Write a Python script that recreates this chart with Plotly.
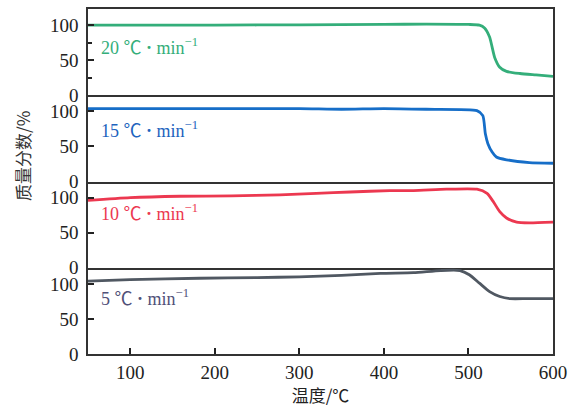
import plotly.graph_objects as go
from plotly.subplots import make_subplots

# Data
t20 = [50, 100, 200, 300, 400, 450, 500, 513, 519, 525, 531, 537, 545, 561, 580, 600]
w20 = [100, 100, 100, 100.5, 101, 101.5, 101, 100, 96, 83, 54, 40, 34, 31, 29, 27]

t15 = [50, 100, 200, 300, 350, 400, 450, 510, 517, 520, 523, 528, 533, 545, 572, 600]
w15 = [104, 104, 104, 104, 103, 104, 103, 101, 94, 68, 54, 42, 35, 31, 27, 26]

t10 = [50, 100, 159, 220, 277, 320, 360, 407, 435, 474, 510, 522, 529, 537, 545, 557, 572, 600]
w10 = [96, 100, 102, 102.5, 104, 106, 108, 110, 110, 112, 112, 106, 95, 80, 71, 65, 64, 65]

t5 = [50, 100, 182, 250, 300, 350, 396, 435, 467, 490, 501, 513, 525, 537, 549, 570, 600]
w5 = [104, 106, 108, 109, 110, 112, 115, 116, 119, 119, 113, 101, 89, 82, 79, 79, 79]

labels = ["20 ℃ <b>·</b> min<sup>−1</sup>", "15 ℃ <b>·</b> min<sup>−1</sup>",
          "10 ℃ <b>·</b> min<sup>−1</sup>", "5 ℃ <b>·</b> min<sup>−1</sup>"]
temps = [t20, t15, t10, t5]
masses = [w20, w15, w10, w5]
line_colors = ["rgb(52,174,122)", "rgb(22,110,200)", "rgb(236,56,80)", "rgb(80,88,98)"]
text_colors = ["rgb(52,174,122)", "rgb(30,100,190)", "rgb(236,56,80)", "rgb(80,80,120)"]

x_ticks = [100, 200, 300, 400, 500, 600]
y_ticks = [0, 50, 100]

fig = make_subplots(rows=4, cols=1, shared_xaxes=True, vertical_spacing=0)

serif = "Liberation Serif, Times New Roman, serif"
label_y = [70, 74, 79, 80]

for i in range(1, 5):
    name, t, w = labels[i - 1], temps[i - 1], masses[i - 1]
    col, tcol = line_colors[i - 1], text_colors[i - 1]
    fig.add_trace(go.Scatter(x=t, y=w, mode="lines", line=dict(color=col, width=2.8, shape="spline", smoothing=0.6),
                             showlegend=False, name=name), row=i, col=1)
    ykw = dict(range=[0, 123], tickvals=y_ticks, ticks="inside", ticklen=6, tickwidth=1.5,
               tickcolor="#222", showline=True, mirror=True, linecolor="#333", linewidth=1.5,
               showgrid=False, zeroline=False, automargin=False, ticklabelstandoff=4,
               tickfont=dict(family=serif, size=19, color="#222"))
    if i == 1:
        ykw["minor"] = dict(tickvals=[25, 75], ticks="inside", ticklen=4, tickcolor="#222")
    fig.update_yaxes(**ykw, row=i, col=1)
    last = (i == 4)
    fig.update_xaxes(range=[50, 600], tickvals=x_ticks, ticks="inside" if last else "", ticklen=6, tickwidth=1.5,
                     tickcolor="#222", showline=True, mirror=(i == 1), linecolor="#333", linewidth=1.5,
                     showgrid=False, zeroline=False, showticklabels=last, automargin=False,
                     tickfont=dict(family=serif, size=19, color="#222"), row=i, col=1)
    xref = "x" if i == 1 else f"x{i}"
    yref = "y" if i == 1 else f"y{i}"
    fig.add_annotation(x=63, y=label_y[i - 1], xref=xref, yref=yref, text=name, showarrow=False,
                       xanchor="left", yanchor="middle",
                       font=dict(family="Liberation Serif, Noto Sans CJK SC", size=18, color=tcol))

fig.update_xaxes(title_text="温度/℃", title_font=dict(family="Noto Sans CJK SC", size=17, color="#222"),
                 title_standoff=2, row=4, col=1)

plot_w = 572 - 88 - 19
plot_h = 407 - 9 - 53
fig.add_annotation(x=(22 - 88) / plot_w, y=(407 - 53 - 156) / plot_h, xref="paper", yref="paper",
                   text="质量分数/%", showarrow=False, textangle=-90, xanchor="center", yanchor="middle",
                   font=dict(family="Noto Sans CJK SC", size=17, color="#333"))

fig.update_layout(width=572, height=407, margin=dict(l=88, r=19, t=9, b=53, autoexpand=False),
                  plot_bgcolor="white", paper_bgcolor="white")

fig.write_html("out.html", config={"displayModeBar": False},
               post_script="document.body.style.margin='0';document.body.style.overflow='hidden';")
